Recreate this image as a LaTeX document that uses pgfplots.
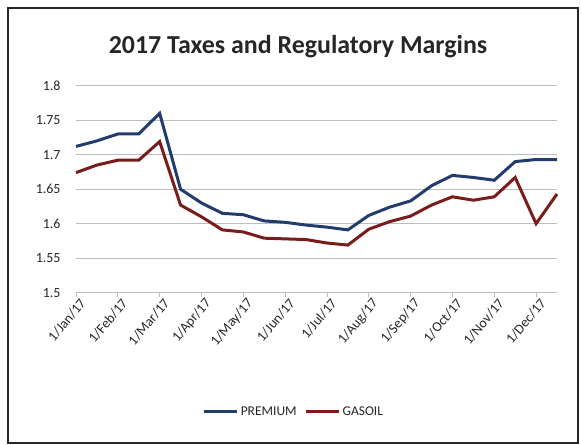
\documentclass[border=0pt]{standalone}
\usepackage{pgfplots}
\pgfplotsset{compat=1.18}
\usepackage{fontspec}
\setmainfont{Carlito}
\definecolor{prem}{HTML}{233C6E}
\definecolor{gas}{HTML}{7A1C1C}
\definecolor{gridc}{HTML}{BDBDBD}
\begin{document}
\begin{tikzpicture}[x=1bp,y=1bp]
\path (0,0) rectangle (581,445);
\draw[line width=2.5bp, color=black!85] (8,2) rectangle (578,437);
\node[font=\fontsize{26}{30}\selectfont\bfseries, text=black!85] at (298,398) {2017 Taxes and Regulatory Margins};
\begin{axis}[
  at={(76bp,152.3bp)}, anchor=south west,
  scale only axis, width=481bp, height=207bp,
  xmin=0, xmax=23, ymin=1.5, ymax=1.8,
  ytick={1.5,1.55,1.6,1.65,1.7,1.75,1.8},
  yticklabels={1.5,1.55,1.6,1.65,1.7,1.75,1.8},
  xtick={0,2,4,6,8,10,12,14,16,18,20,22},
  xticklabels={1/Jan/17,1/Feb/17,1/Mar/17,1/Apr/17,1/May/17,1/Jun/17,1/Jul/17,1/Aug/17,1/Sep/17,1/Oct/17,1/Nov/17,1/Dec/17},
  axis x line*=bottom, axis y line*=left,
  x axis line style={gridc, line width=1.2bp, -},
  y axis line style={draw=none},
  ytick style={draw=none},
  xtick style={gridc, line width=0.8bp},
  tick align=outside, major tick length=4bp,
  ymajorgrids, grid style={gridc, line width=1.2bp},
  tick label style={font=\fontsize{14}{16}\selectfont, text=black!85},
  yticklabel style={xshift=-8bp},
  xticklabel style={rotate=50, anchor=east, inner sep=0.5bp, yshift=-8bp, xshift=2bp},
  legend style={at={(0.453,-0.575)}, anchor=center, draw=none, fill=none, legend columns=2,
    font=\fontsize{13.5}{15}\selectfont, text=black!85,
    /tikz/every even column/.append style={column sep=6bp}},
  legend image code/.code={\draw[#1] (0bp,0bp) -- (33bp,0bp);},
  clip=false,
]
\addplot[prem, line width=3bp] coordinates {
(0,1.712) (1,1.720) (2,1.730) (3,1.730) (4,1.760) (5,1.650) (6,1.630) (7,1.615)
(8,1.613) (9,1.604) (10,1.602) (11,1.598) (12,1.595) (13,1.591) (14,1.612) (15,1.624)
(16,1.633) (17,1.655) (18,1.670) (19,1.667) (20,1.663) (21,1.690) (22,1.693) (23,1.693)};
\addlegendentry{PREMIUM}
\addplot[gas, line width=3bp] coordinates {
(0,1.674) (1,1.685) (2,1.692) (3,1.692) (4,1.719) (5,1.627) (6,1.610) (7,1.591)
(8,1.588) (9,1.579) (10,1.578) (11,1.577) (12,1.572) (13,1.569) (14,1.592) (15,1.603)
(16,1.611) (17,1.627) (18,1.639) (19,1.634) (20,1.639) (21,1.667) (22,1.600) (23,1.643)};
\addlegendentry{GASOIL}
\end{axis}
\end{tikzpicture}
\end{document}
